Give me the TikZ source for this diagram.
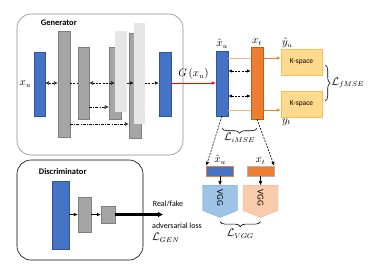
\documentclass[tikz,border=0pt]{standalone}
\usepackage{amsmath}
\usepackage{fontspec}
\setmainfont{Carlito}
\usepackage{xcolor}
\usetikzlibrary{arrows.meta, positioning, calc, decorations.pathreplacing, shapes.symbols}

\definecolor{bluefill}{HTML}{4472C4}
\definecolor{blueedge}{HTML}{2F5597}
\definecolor{grayfill}{HTML}{A5A5A5}
\definecolor{grayedge}{HTML}{7F7F7F}
\definecolor{lightfill}{HTML}{E6E6E6}
\definecolor{orangefill}{HTML}{ED7D31}
\definecolor{orangeedge}{HTML}{C55A11}
\definecolor{lorange}{HTML}{F4B183}
\definecolor{ksfill}{HTML}{FFD98E}
\definecolor{ksedge}{HTML}{F5C056}
\definecolor{vggblue}{HTML}{9DC3E6}
\definecolor{vggblueedge}{HTML}{7FA7D9}
\definecolor{vggorange}{HTML}{F8CBAD}
\definecolor{vggorangeedge}{HTML}{F4B183}
\definecolor{frameedge}{HTML}{8C8C8C}

\begin{document}
\begin{tikzpicture}[
    x=1pt, y=-1pt,
    font=\fontsize{8}{9.6}\selectfont,
    frame/.style={draw, rounded corners=14pt, line width=0.6pt},
    title/.style={font=\fontsize{8.5}{10}\selectfont\bfseries, inner sep=1pt},
    lbl/.style={inner sep=1pt},
    mlbl/.style={inner sep=1pt, font=\fontsize{10.5}{12}\selectfont},
    bbar/.style={draw=blueedge, fill=bluefill, inner sep=0pt},
    gbar/.style={draw=grayedge, fill=grayfill, inner sep=0pt},
    lbar/.style={fill=lightfill, inner sep=0pt},
    obar/.style={draw=orangeedge, fill=orangefill, inner sep=0pt},
    kbox/.style={draw=ksedge, fill=ksfill, minimum width=41pt, minimum height=26pt,
                 inner sep=0pt, font=\fontsize{7.5}{9}\selectfont},
    vgg/.style={shape=signal, signal to=east, signal from=nowhere, signal pointer angle=136,
                rotate=-90, minimum width=32pt, minimum height=35pt, inner sep=0pt,
                font=\fontsize{9}{10}\selectfont},
    dsh/.style={dash pattern=on 2pt off 1.2pt, line width=0.6pt},
    dshdot/.style={dash pattern=on 3pt off 1.2pt on 0.8pt off 1.2pt, line width=0.6pt},
    arr/.style={-{Latex[length=4pt,width=3.5pt]}},
    oarr/.style={-{Latex[open,length=4pt,width=4pt]}},
    both/.style={{Latex[length=4pt,width=3.5pt]}-{Latex[length=4pt,width=3.5pt]}},
    oboth/.style={{Latex[open,length=4pt,width=4pt]}-{Latex[open,length=4pt,width=4pt]}},
    brace/.style={decorate, decoration={brace, amplitude=5pt}, line width=0.6pt},
    mbrace/.style={decorate, decoration={brace, mirror, amplitude=5pt}, line width=0.6pt}
  ]
    \useasboundingbox (0,0) rectangle (372,273);

    \node[frame, draw=frameedge, minimum width=166pt, minimum height=141pt] (gen) at (100,84.5) {};
    \node[title, anchor=north west] (gtitle) at ([shift={(23,5)}]gen.north west) {Generator};

    \coordinate (row) at (0,83);
    \coordinate (rowa) at (0,107);
    \coordinate (rowb) at (0,124);

    \node[bbar, minimum width=11pt, minimum height=64pt] (inG) at (39.5,84) {};
    \node[gbar, minimum width=12pt, minimum height=106pt] (ga) at (64,84) {};
    \node[gbar, minimum width=11pt, minimum height=72pt] (gb) at (83.5,83) {};
    \node[gbar, minimum width=12pt, minimum height=72pt] (gc) at (115,83) {};
    \node[lbar, minimum width=12pt, minimum height=81pt] (lc) at (121,71.5) {};
    \node[gbar, minimum width=12pt, minimum height=105pt] (gd) at (135,85.5) {};
    \node[lbar, minimum width=11pt, minimum height=101pt] (ld) at (139.5,73.5) {};
    \node[bbar, minimum width=12pt, minimum height=64pt] (outG) at (165,84) {};
    \node[mlbl, left=1.5pt of inG] (lxu) {$x_u$};

    \draw[dsh, oboth] (inG.east |- row) -- (ga.west |- row);
    \draw[dsh] (ga.east |- row) -- (gb.west |- row);
    \draw[dsh, oboth] (gb.east |- row) -- (lc.west |- row);
    \draw[dsh, arr] (lc.east |- row) -- (ld.west |- row);
    \draw[dsh, arr] (ld.east |- row) -- (outG.west |- row);
    \draw[dshdot, oarr] (gb.east |- rowa) -- (gc.west |- rowa);
    \draw[dshdot, oarr] (ga.east |- rowb) -- (gd.west |- rowb);

    \node[bbar, minimum width=12pt, minimum height=65pt] (xhu) at (222,83.5) {};
    \node[obar, minimum width=12pt, minimum height=72pt] (xt) at (257,83) {};
    \node[kbox] (ks1) at (301.5,62) {K-space};
    \node[kbox] (ks2) at (301.5,104) {K-space};
    \node[mlbl, above=1pt of xhu] (lxhu) {$\hat{x}_u$};
    \node[mlbl, above=0pt of xt] (lxt) {$x_t$};
    \node[mlbl, anchor=south west] (lyu) at (ks1.north west) {$\hat{y}_u$};
    \node[mlbl, anchor=north west] (lyt) at (ks2.south west) {$y_t$};

    \draw[red, line width=0.6pt, arr] (outG.east |- row) -- (xhu.west |- row)
      node[midway, above=2pt, black, mlbl] (lg) {$G\,(x_u)$};

    \coordinate (ka) at ([yshift=4pt]ks1.west);
    \coordinate (kb) at ([yshift=-6pt]ks2.west);
    \draw[lorange, line width=0.8pt] (xhu.east |- ka) -- (xt.west |- ka);
    \draw[orangefill, line width=0.8pt, arr] (xt.east |- ka) -- (ka);
    \draw[lorange, line width=0.8pt] (xhu.east |- kb) -- (xt.west |- kb);
    \draw[orangefill, line width=0.8pt, arr] (xt.east |- kb) -- (kb);

    \coordinate (rowc) at (0,71);
    \coordinate (rowd) at (0,96);
    \draw[dsh, both] (xhu.east |- rowc) -- (xt.west |- rowc);
    \draw[dsh, both] (xhu.east |- rowd) -- (xt.west |- rowd);

    \draw[brace] ([shift={(3,3)}]ks1.east) -- ([shift={(3,-3)}]ks2.east)
      node[midway, right=5pt, mlbl] (lfmse) {$\mathcal{L}_{fMSE}$};
    \draw[mbrace] ([yshift=-12pt]xhu.south) -- ([yshift=-9pt]xt.south)
      node[midway, below=4pt, mlbl] (limse) {$\mathcal{L}_{iMSE}$};

    \node[bbar, draw=orangefill, minimum width=27pt, minimum height=10pt] (su) at (220,171) {};
    \node[obar, draw=grayedge!60, minimum width=27pt, minimum height=10pt] (sx) at (260.5,171) {};
    \node[mlbl, above=0pt of su] (lsu) {$\hat{x}_u$};
    \node[mlbl, above=0pt of sx] (lsx) {$x_t$};
    \draw[dsh, arr] (xhu.south) -- (su.north west);
    \draw[dsh, arr] (xt.south) -- (sx.north east);

    \node[vgg, fill=vggblue, draw=vggblueedge, anchor=west] (vggu) at ([yshift=-9pt]su.south) {VGG};
    \node[vgg, fill=vggorange, draw=vggorangeedge, anchor=west] (vggx) at ([yshift=-9pt]sx.south) {VGG};
    \draw[arr] (su) -- (vggu.west);
    \draw[arr] (sx) -- (vggx.west);
    \draw[mbrace] ([yshift=-4pt]vggu.east) -- ([yshift=-4pt]vggx.east)
      node[midway, below=6pt, mlbl] (lvgg) {$\mathcal{L}_{VGG}$};

    \node[frame, minimum width=126pt, minimum height=100pt] (dis) at (80,210) {};
    \node[title, anchor=north west] (dtitle) at ([shift={(21,8)}]dis.north west) {Discriminator};
    \node[bbar, minimum width=17pt, minimum height=68pt] (d1) at (60.5,215) {};
    \node[gbar, minimum width=13pt, minimum height=35pt] (d2) at (84.5,214.5) {};
    \node[gbar, minimum width=14pt, minimum height=17pt] (d3) at (108,214.5) {};
    \draw[arr] (d1.east |- d2) -- (d2);
    \draw[arr] (d2) -- (d3);
    \coordinate (rf) at (163,214.5);
    \draw[line width=2.4pt, -{Latex[length=5pt,width=6pt]}] (d3) -- (rf);
    \node[lbl] (lrf) at (168,204) {Real/fake};
    \node[lbl] (ladv) at (177,226) {adversarial loss};
    \node[mlbl] (lgen) at (166,238) {$\mathcal{L}_{GEN}$};
  \end{tikzpicture}
\end{document}
